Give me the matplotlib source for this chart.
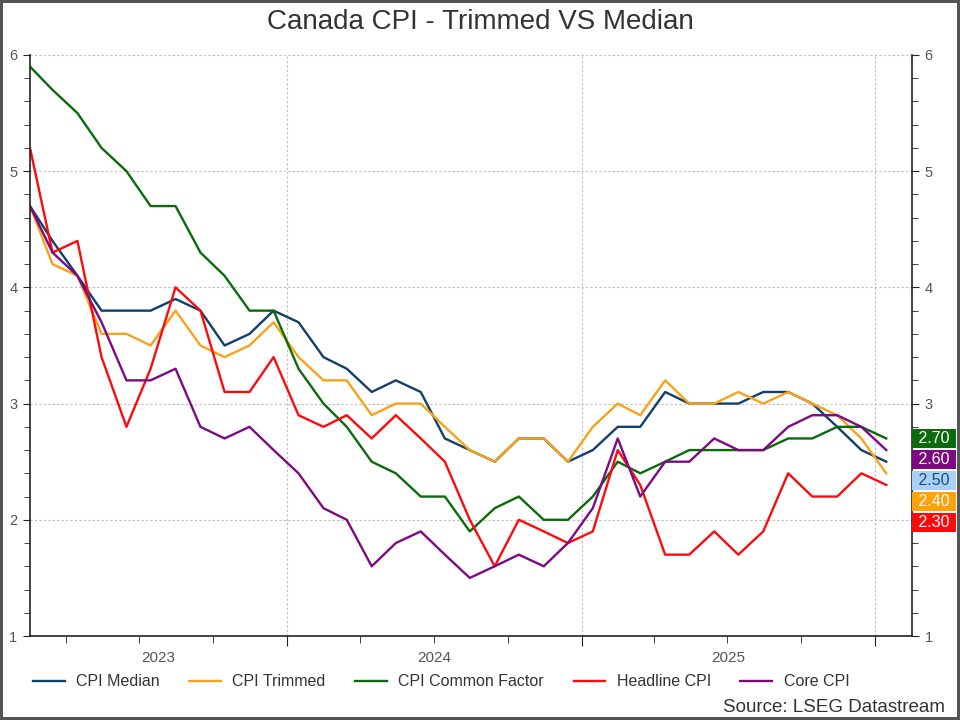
import matplotlib
matplotlib.use("Agg")
import matplotlib.pyplot as plt
import matplotlib.dates as mdates
import numpy as np
import pandas as pd

plt.rcParams['font.family'] = ['Liberation Sans', 'DejaVu Sans']

# monthly data, Feb 2023 .. Jan 2026 (plotted mid-month)
dates = pd.date_range('2023-02-01', periods=36, freq='MS') + pd.Timedelta(days=14)

cpi_median = [4.7, 4.4, 4.1, 3.8, 3.8, 3.8, 3.9, 3.8, 3.5, 3.6, 3.8, 3.7,
              3.4, 3.3, 3.1, 3.2, 3.1, 2.7, 2.6, 2.5, 2.7, 2.7, 2.5, 2.6,
              2.8, 2.8, 3.1, 3.0, 3.0, 3.0, 3.1, 3.1, 3.0, 2.8, 2.6, 2.5]
cpi_trimmed = [4.7, 4.2, 4.1, 3.6, 3.6, 3.5, 3.8, 3.5, 3.4, 3.5, 3.7, 3.4,
               3.2, 3.2, 2.9, 3.0, 3.0, 2.8, 2.6, 2.5, 2.7, 2.7, 2.5, 2.8,
               3.0, 2.9, 3.2, 3.0, 3.0, 3.1, 3.0, 3.1, 3.0, 2.9, 2.7, 2.4]
cpi_common = [5.9, 5.7, 5.5, 5.2, 5.0, 4.7, 4.7, 4.3, 4.1, 3.8, 3.8, 3.3,
              3.0, 2.8, 2.5, 2.4, 2.2, 2.2, 1.9, 2.1, 2.2, 2.0, 2.0, 2.2,
              2.5, 2.4, 2.5, 2.6, 2.6, 2.6, 2.6, 2.7, 2.7, 2.8, 2.8, 2.7]
headline = [5.2, 4.3, 4.4, 3.4, 2.8, 3.3, 4.0, 3.8, 3.1, 3.1, 3.4, 2.9,
            2.8, 2.9, 2.7, 2.9, 2.7, 2.5, 2.0, 1.6, 2.0, 1.9, 1.8, 1.9,
            2.6, 2.3, 1.7, 1.7, 1.9, 1.7, 1.9, 2.4, 2.2, 2.2, 2.4, 2.3]
core_cpi = [4.7, 4.3, 4.1, 3.7, 3.2, 3.2, 3.3, 2.8, 2.7, 2.8, 2.6, 2.4,
            2.1, 2.0, 1.6, 1.8, 1.9, 1.7, 1.5, 1.6, 1.7, 1.6, 1.8, 2.1,
            2.7, 2.2, 2.5, 2.5, 2.7, 2.6, 2.6, 2.8, 2.9, 2.9, 2.8, 2.6]

names = ['CPI Median', 'CPI Trimmed', 'CPI Common Factor', 'Headline CPI', 'Core CPI']
series = [cpi_median, cpi_trimmed, cpi_common, headline, core_cpi]
colors = ['#123f6b', '#f7a21b', '#0b6b0b', '#ff0a0a', '#7d0a82']
box_colors = ['#a9d1f7', '#ffa20a', '#0b6b0b', '#ff0a0a', '#7d0a82']
box_text = ['#1f4e79', 'white', 'white', 'white', 'white']
years = [2023, 2024, 2025]

fig = plt.figure(figsize=(9.6, 7.2), dpi=100)
fig.patch.set_edgecolor('#555555')
fig.patch.set_linewidth(3)
ax = fig.add_axes([30 / 960, 1 - 636 / 720, 882 / 960, 581 / 720])

for vals, name, c in zip(series, names, colors):
    ax.plot(dates, vals, color=c, lw=1.7, label=name)

x0 = dates[0]
x1 = pd.Timestamp('2026-02-16')
ax.set_xlim(x0, x1)
ax.set_ylim(1, 6)

# axes styling
ax.spines['top'].set_visible(False)
for s in ['left', 'right', 'bottom']:
    ax.spines[s].set_color('#222222')
    ax.spines[s].set_linewidth(1.2)
ax.set_yticks(np.arange(1, 7, 1))
ax.set_yticks(np.arange(1, 6.01, 0.2), minor=True)
ax.tick_params(axis='y', which='both', left=True, right=True, labelleft=True, labelright=True,
               direction='out', colors='#222222', labelcolor='#555555', labelsize=10.5, pad=4)
ax.tick_params(axis='y', which='major', length=5)
ax.tick_params(axis='y', which='minor', length=4)
# the right-hand "2" sits under the value boxes
for tick, loc in zip(ax.yaxis.get_major_ticks(), ax.get_yticks()):
    if loc == 2:
        tick.label2.set_visible(False)

ax.xaxis.set_major_locator(mdates.YearLocator())
ax.xaxis.set_minor_locator(mdates.MonthLocator(bymonth=[4, 7, 10]))
ax.xaxis.set_major_formatter(plt.NullFormatter())
ax.tick_params(axis='x', which='major', length=7, color='#222222')
ax.tick_params(axis='x', which='minor', length=5, color='#222222')

ax.grid(True, which='major', color='#bdbdbd', lw=0.8, ls=(0, (2, 2)))

# year labels centred on visible part of each year
trans = ax.get_xaxis_transform()
for yr in years:
    a = max(pd.Timestamp(f'{yr}-01-01'), x0)
    b = min(pd.Timestamp(f'{yr + 1}-01-01'), x1)
    mid = a + (b - a) / 2
    ax.text(mid, -0.038, str(yr), transform=trans, ha='center', va='center',
            fontsize=11, color='#555555')

# last-value boxes on the right, stacked in value order
last = [s[-1] for s in series]
order = np.argsort(last)[::-1]
anchor = np.mean(last)
step = 21 * 0.72
for k, i in enumerate(order):
    dy = (2 - k) * step - 19 * 0.72
    ax.annotate(f' {last[i]:.2f} ', xy=(1, anchor), xycoords=('axes fraction', 'data'),
                xytext=(22 * 0.72, dy), textcoords='offset points',
                ha='center', va='center', fontsize=11.5, color=box_text[i],
                bbox=dict(boxstyle='square,pad=0.12', fc=box_colors[i], ec='none'),
                annotation_clip=False)

fig.text(0.5, 1 - 22 / 720, 'Canada CPI - Trimmed VS Median', ha='center', va='center',
         fontsize=20, color='#333333')

leg = fig.legend(loc='center left', bbox_to_anchor=(33 / 960, 1 - 682 / 720), ncol=5,
                 frameon=False, fontsize=11.5, handlelength=2.0, columnspacing=1.85,
                 handletextpad=0.7, borderaxespad=0, borderpad=0)
for t in leg.get_texts():
    t.set_color('#333333')

fig.text(945 / 960, 1 - 707 / 720, 'Source: LSEG Datastream', ha='right', va='center',
         fontsize=13.5, color='#333333')

fig.savefig('out.png', dpi=100, edgecolor=fig.get_edgecolor())
